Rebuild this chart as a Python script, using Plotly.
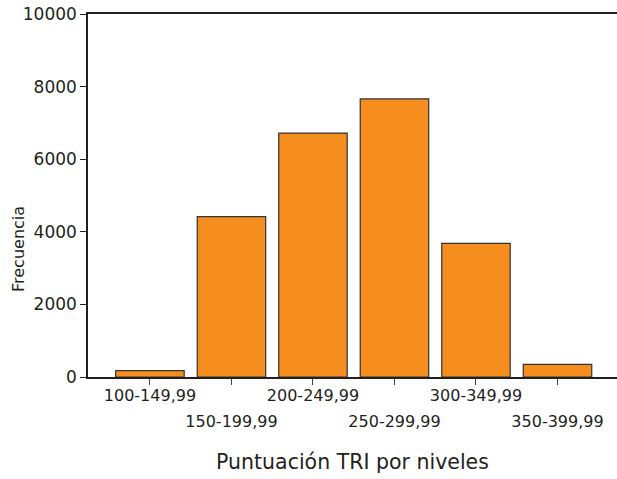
import plotly.graph_objects as go

categories = ["100-149,99", "150-199,99", "200-249,99", "250-299,99", "300-349,99", "350-399,99"]
frecuencia = [175, 4420, 6720, 7660, 3680, 350]
y_ticks = [0, 2000, 4000, 6000, 8000, 10000]
y_tick_text = ["0", "2000", "4000", "6000", "8000", "10000"]

pos = list(range(len(categories)))
odd_text = [c if i % 2 == 0 else "" for i, c in enumerate(categories)]
even_text = [c if i % 2 == 1 else "" for i, c in enumerate(categories)]

ink = "#231f20"
fig = go.Figure()
fig.add_trace(go.Bar(x=pos, y=frecuencia, width=0.84,
                     marker=dict(color="#F68E1F", line=dict(color="#333333", width=1.2)),
                     showlegend=False))
fig.add_trace(go.Scatter(x=pos, y=[None]*len(pos), xaxis="x2", showlegend=False, hoverinfo="skip"))

plot_w = 617 - 88
plot_h = 479 - 14 - 102

fig.update_layout(
    width=617, height=479,
    margin=dict(l=88, r=0, t=14, b=102, autoexpand=False),
    plot_bgcolor="white", paper_bgcolor="white",
    font=dict(family="DejaVu Sans", color=ink),
    xaxis=dict(range=[-0.76, 5.73], tickmode="array", tickvals=pos, ticktext=odd_text,
               showline=True, linecolor=ink, linewidth=1.5, mirror=True, automargin=False,
               ticks="outside", ticklen=6, tickcolor="#444444", tickwidth=1.2,
               ticklabelstandoff=-3,
               tickfont=dict(size=16, color=ink), showgrid=False, zeroline=False,
               title=dict(text="Puntuación TRI por niveles", font=dict(size=20.5, color=ink), standoff=51)),
    xaxis2=dict(range=[-0.76, 5.73], overlaying="x", side="bottom", anchor="y", automargin=False,
                tickmode="array", tickvals=pos, ticktext=even_text,
                showline=False, ticks="", showgrid=False, zeroline=False,
                ticklabelstandoff=33, tickfont=dict(size=16, color=ink)),
    yaxis=dict(range=[0, 10000], tickmode="array", tickvals=y_ticks, ticktext=y_tick_text,
               showline=True, linecolor=ink, linewidth=1.5, automargin=False,
               ticks="outside", ticklen=6, tickcolor=ink, tickwidth=1.2,
               tickfont=dict(size=17, color=ink), showgrid=False, zeroline=False),
    annotations=[dict(text="Frecuencia", x=(18 - 88) / plot_w, y=(377 - 249) / plot_h,
                      xref="paper", yref="paper", xanchor="center", yanchor="middle",
                      showarrow=False, textangle=-90, font=dict(size=16, color=ink))],
)

fig.write_html("out.html", config={"displayModeBar": False},
               post_script="document.body.style.margin='0';document.body.style.overflow='hidden';")
